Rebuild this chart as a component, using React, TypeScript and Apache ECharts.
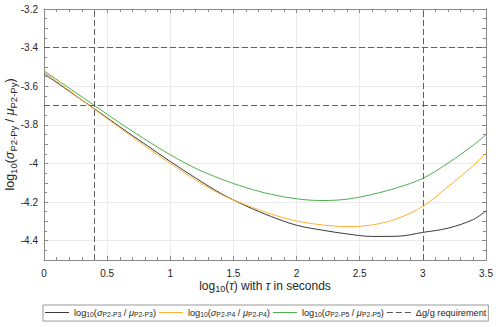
import React, { useEffect, useRef } from "react";
import * as echarts from "echarts";

const tau = [0, 0.2, 0.4, 0.6, 0.8, 1.0, 1.2, 1.4, 1.6, 1.8, 2.0, 2.2, 2.4, 2.6, 2.8, 3.0, 3.2, 3.4, 3.5];
const p3 = [-3.535, -3.626, -3.717, -3.81, -3.9, -3.99, -4.075, -4.155, -4.22, -4.275, -4.32, -4.345, -4.365, -4.378, -4.377, -4.357, -4.335, -4.29, -4.245];
const p4 = [-3.525, -3.622, -3.72, -3.815, -3.91, -4.0, -4.085, -4.16, -4.215, -4.262, -4.298, -4.318, -4.327, -4.318, -4.285, -4.222, -4.12, -4.01, -3.946];
const p5 = [-3.52, -3.61, -3.7, -3.79, -3.875, -3.955, -4.025, -4.08, -4.125, -4.16, -4.183, -4.192, -4.185, -4.16, -4.125, -4.077, -3.998, -3.905, -3.851];
const reqY = [-3.4, -3.7];
const reqX = [0.4, 3.0];
const seriesNames = ["P2-P3", "P2-P4", "P2-P5"];
const reqName = "Δg/g requirement";

const FONT = "Liberation Sans, Arial, sans-serif";
const TXT = "#262626";
const AX = "#8a8a8a";

export default function App() {
  const ref = useRef<HTMLDivElement>(null);
  useEffect(() => {
    if (!ref.current) return;
    const chart = echarts.init(ref.current, undefined, { renderer: "svg" });
    const rich = (size: number, sub: number) => ({
      n: { fontSize: size, fontFamily: FONT, color: TXT },
      i: { fontSize: size, fontFamily: FONT, color: TXT, fontStyle: "italic" },
      s: { fontSize: sub, fontFamily: FONT, color: TXT, padding: [size * 0.45, 0, 0, 0] },
    });
    const mk = (vals: number[]) => tau.map((t, i) => [t, vals[i]]);
    const colors = ["#3a3a3a", "#ffb033", "#4fae4f"];
    const dataSets = [p3, p4, p5];
    const lines = dataSets.map((d, i) => ({
      name: seriesNames[i],
      type: "line",
      data: mk(d),
      smooth: 0.35,
      showSymbol: false,
      symbol: "none",
      lineStyle: { color: colors[i], width: 1 },
      itemStyle: { color: colors[i] },
      xAxisIndex: 0,
      yAxisIndex: 0,
    }));
    const xCommon = {
      type: "value",
      min: 0,
      max: 3.5,
      interval: 0.5,
      axisLine: { show: true, onZero: false, lineStyle: { color: AX, width: 1 } },
      axisTick: { show: true, inside: true, length: 4, lineStyle: { color: AX } },
      minorTick: { show: true, splitNumber: 5, length: 3, lineStyle: { color: AX } },
    };
    const yCommon = {
      type: "value",
      min: -4.5,
      max: -3.2,
      interval: 0.1,
      axisLine: { show: true, onZero: false, lineStyle: { color: AX, width: 1 } },
      axisTick: { show: true, inside: true, length: 4, lineStyle: { color: AX } },
      minorTick: { show: true, splitNumber: 2, length: 3, lineStyle: { color: AX } },
    };
    const lineIcon = "path://M0,0h24v1h-24z";
    const dashIcon = "path://M0,0h6v1h-6zM9,0h6v1h-6zM18,0h6v1h-6z";
    chart.setOption({
      animation: false,
      backgroundColor: "#ffffff",
      grid: { left: 44, right: 10, top: 9, bottom: 67, containLabel: false, outerBoundsMode: "none" },
      textStyle: { fontFamily: FONT },
      xAxis: [
        {
          ...xCommon,
          position: "bottom",
          axisLabel: { color: TXT, fontSize: 10, margin: 8, fontFamily: FONT },
          splitLine: { show: true, lineStyle: { color: "#ebebeb", width: 1 } },
          name: "{n|log}{s|10}{n|(}{i|τ}{n|) with }{i|τ}{n| in seconds}",
          nameLocation: "middle",
          nameGap: 19,
          nameMoveOverlap: false,
          nameTextStyle: { rich: rich(12, 9) },
        },
        {
          ...xCommon,
          position: "top",
          axisLabel: { show: false },
          splitLine: { show: false },
        },
      ],
      yAxis: [
        {
          ...yCommon,
          position: "left",
          axisLabel: {
            color: TXT,
            fontSize: 10,
            margin: 6,
            fontFamily: FONT,
            formatter: (v: number) => {
              const k = Math.round(v * 10);
              if (k % 2 !== 0) return "";
              return String(Math.round(v * 10) / 10);
            },
          },
          splitLine: { show: true, lineStyle: { color: ["rgba(0,0,0,0)", "#ebebeb"], width: 1 } },
          name: "{n|log}{s|10}{n|(}{i|σ}{s|P2-Py}{n| / }{i|μ}{s|P2-Py}{n|)}",
          nameLocation: "middle",
          nameGap: 26,
          nameMoveOverlap: false,
          nameTextStyle: { rich: rich(12.5, 9.5) },
        },
        {
          ...yCommon,
          position: "right",
          axisLabel: { show: false },
          splitLine: { show: false },
        },
      ],
      legend: {
        left: 43,
        top: 305,
        width: 453,
        orient: "horizontal",
        itemWidth: 24,
        itemHeight: 1,
        itemGap: 3,
        padding: [3, 2, 3, 2],
        borderColor: "#999",
        borderWidth: 1,
        data: [
          ...seriesNames.map((n) => ({ name: n, icon: lineIcon })),
          { name: reqName, icon: dashIcon },
        ],
        formatter: (name: string) => {
          if (name === reqName) return "{n|" + name + "}";
          return "{n|log}{s|10}{n|(}{i|σ}{s|" + name + "}{n| / }{i|μ}{s|" + name + "}{n|)}";
        },
        textStyle: { rich: rich(9.2, 6.8) },
      },
      series: [
        ...lines,
        {
          name: reqName,
          type: "line",
          data: [],
          showSymbol: false,
          symbol: "none",
          lineStyle: { color: "#555", width: 1, type: [5, 3] },
          itemStyle: { color: "#555" },
          markLine: {
            silent: true,
            symbol: "none",
            label: { show: false },
            lineStyle: { color: "#606060", width: 1, type: [6, 3] },
            data: [...reqY.map((v) => ({ yAxis: v })), ...reqX.map((v) => ({ xAxis: v }))],
          },
        },
      ],
    });
    return () => chart.dispose();
  }, []);
  return <div ref={ref} style={{ width: 496, height: 327, position: "absolute", left: 0, top: 0 }} />;
}
